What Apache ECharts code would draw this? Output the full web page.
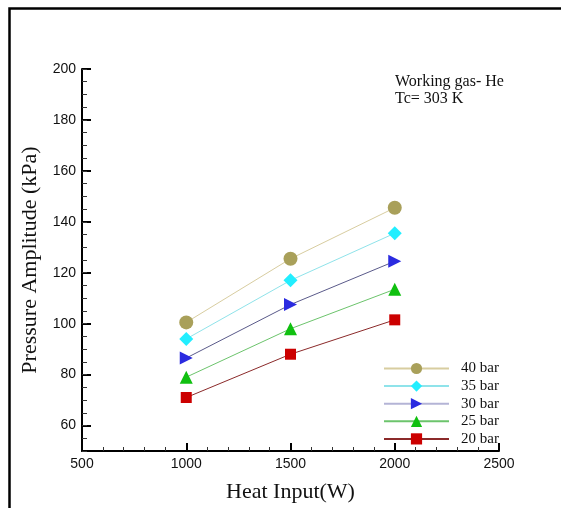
<!DOCTYPE html>
<html>
<head>
<meta charset="utf-8">
<script src="https://cdn.jsdelivr.net/npm/echarts@6/dist/echarts.min.js"></script>
<style>
  html, body { margin: 0; padding: 0; background: #fff; }
  #chart { width: 561px; height: 508px; }
</style>
</head>
<body>
<div id="chart"></div>
<script>
// Heat input levels (W)
const heatInput = [1000, 1500, 2000];

// Pressure amplitude (kPa) for each charge pressure
const p40 = [100.5, 125.5, 145.5];
const p35 = [94, 117, 135.5];
const p30 = [86.5, 107.5, 124.5];
const p25 = [79, 98, 113.5];
const p20 = [71, 88, 101.5];

const seriesNames = ['40 bar', '35 bar', '30 bar', '25 bar', '20 bar'];
const yTickValues = [60, 80, 100, 120, 140, 160, 180, 200];

const serif = '"Liberation Serif", "Times New Roman", serif';
const sans = '"Liberation Sans", Arial, sans-serif';

function pairs(ys) {
  return heatInput.map((x, i) => [x, ys[i]]);
}

function makeSeries(name, ys, symbol, size, markColor, lineColor, extra) {
  return Object.assign({
    name: name,
    type: 'line',
    data: pairs(ys),
    symbol: symbol,
    symbolSize: size,
    itemStyle: { color: markColor },
    lineStyle: { color: lineColor, width: 1 },
    emphasis: { disabled: true },
    animation: false,
    z: 3
  }, extra || {});
}

// legend entries; the 30 bar key line is drawn lighter than its series line
const legendItems = seriesNames.map(n =>
  n === '30 bar' ? { name: n, lineStyle: { color: '#b4b4d6' } } : { name: n }
);

const chart = echarts.init(document.getElementById('chart'), null, { renderer: 'canvas' });

chart.setOption({
  backgroundColor: '#fff',
  animation: false,
  grid: { left: 82, right: 62, top: 69, bottom: 55, containLabel: false },
  xAxis: {
    type: 'value',
    min: 500, max: 2500, interval: 500,
    name: 'Heat Input(W)',
    nameLocation: 'middle',
    nameGap: 30,
    nameTextStyle: { fontFamily: serif, fontSize: 22, color: '#111' },
    axisLine: { lineStyle: { color: '#000', width: 2 } },
    axisTick: { show: true, inside: true, length: 8, lineStyle: { color: '#000', width: 2 } },
    minorTick: { show: true, splitNumber: 5, length: 4, lineStyle: { color: '#333', width: 1 } },
    axisLabel: {
      fontFamily: sans, fontSize: 14, color: '#111', margin: 6,
      showMinLabel: true, showMaxLabel: true,
      formatter: v => String(v)
    },
    splitLine: { show: false }
  },
  yAxis: [
    {
      type: 'value',
      min: 50, max: 200,
      name: 'Pressure Amplitude (kPa)',
      nameLocation: 'middle',
      nameGap: 41,
      nameTextStyle: { fontFamily: serif, fontSize: 22, color: '#111' },
      axisLine: { show: true, lineStyle: { color: '#000', width: 2 } },
      axisTick: { show: true, inside: true, length: 9, customValues: yTickValues, lineStyle: { color: '#000', width: 2 } },
      axisLabel: { fontFamily: sans, fontSize: 14, color: '#111', margin: 6, customValues: yTickValues },
      splitLine: { show: false }
    },
    {
      // short ticks every 5 kPa
      type: 'value',
      min: 50, max: 200, interval: 5,
      position: 'left',
      axisLine: { show: false },
      axisTick: { show: true, inside: true, length: 5, lineStyle: { color: '#333', width: 1 } },
      axisLabel: { show: false },
      splitLine: { show: false }
    }
  ],
  legend: {
    orient: 'vertical',
    left: 378,
    top: 356,
    itemWidth: 65,
    itemHeight: 14,
    itemGap: 2.6,
    data: legendItems,
    textStyle: { fontFamily: serif, fontSize: 15, color: '#111', padding: [0, 0, 0, 7] },
    selectedMode: false
  },
  graphic: [
    {
      type: 'rect',
      shape: { x: 9.5, y: 8.5, width: 700, height: 700 },
      style: { fill: 'none', stroke: '#000', lineWidth: 2.5 },
      silent: true
    },
    {
      type: 'text',
      left: 395,
      top: 73,
      style: {
        text: 'Working gas- He\nTc= 303 K',
        font: '16px ' + serif,
        fill: '#111',
        lineHeight: 17
      },
      silent: true
    }
  ],
  series: [
    makeSeries('40 bar', p40, 'circle', 14, '#a9a05a', '#d8cda0'),
    makeSeries('35 bar', p35, 'diamond', 14, '#22eeff', '#8fe3ea'),
    makeSeries('30 bar', p30, 'triangle', 13, '#2b2be0', '#5a5a8a', { symbolRotate: -90 }),
    makeSeries('25 bar', p25, 'triangle', 13, '#10c010', '#6cc46c'),
    makeSeries('20 bar', p20, 'rect', 11, '#cc0000', '#8b2a2a')
  ]
});
</script>
</body>
</html>
